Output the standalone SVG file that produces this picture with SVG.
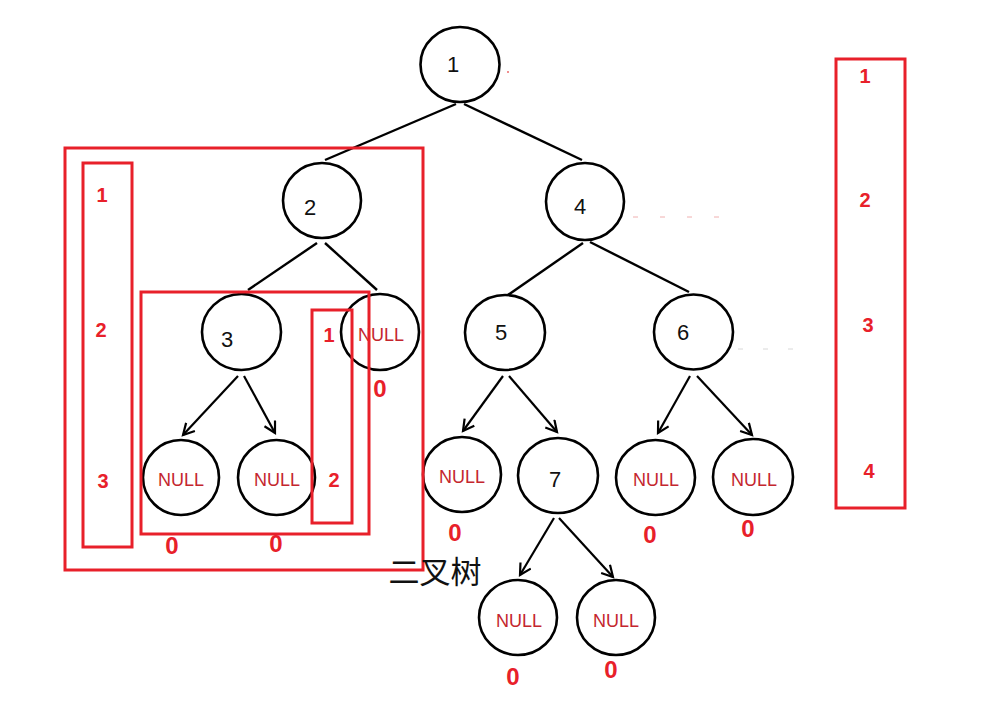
<svg xmlns="http://www.w3.org/2000/svg" width="986" height="712" viewBox="0 0 986 712">
<style>
.node{fill:#fff;stroke:#000;stroke-width:2.6}
.lbl{font-family:"Liberation Sans",Arial,sans-serif;font-size:22px;fill:#111;text-anchor:middle}
.null{font-family:"Liberation Sans",Arial,sans-serif;font-size:18px;fill:#c4262e;text-anchor:middle}
.zero{font-family:"Liberation Sans",Arial,sans-serif;font-size:24px;font-weight:bold;fill:#e8202a;text-anchor:middle}
.num{font-family:"Liberation Sans",Arial,sans-serif;font-size:20px;font-weight:bold;fill:#e8202a;text-anchor:middle}
.box{fill:none;stroke:#e8202a;stroke-width:3}
.edge{stroke:#000;stroke-width:2.4;fill:none}
.arrow{stroke:#000;stroke-width:2.2;fill:none;marker-end:url(#ah)}
.cjk{font-family:"Noto Sans CJK SC","Liberation Sans",sans-serif;font-size:31px;fill:#111;text-anchor:middle}
</style>
<defs>
<marker id="ah" markerUnits="userSpaceOnUse" markerWidth="16" markerHeight="16" refX="12" refY="7" orient="auto">
<path d="M1,1 L12,7 L1,13" fill="none" stroke="#000" stroke-width="2.2"/>
</marker>
</defs>
<rect width="986" height="712" fill="#fff"/>

<g id="connectors">
<line class="edge" x1="456" y1="104" x2="325" y2="160"/>
<line class="edge" x1="464" y1="104" x2="582" y2="160"/>
<line class="edge" x1="317" y1="243" x2="248" y2="290"/>
<line class="edge" x1="325" y1="243" x2="377" y2="290"/>
<line class="edge" x1="583" y1="243" x2="505" y2="297" stroke-width="3.4"/>
<line class="edge" x1="590" y1="242" x2="689" y2="292"/>
<line class="arrow" x1="238" y1="376" x2="183" y2="435"/>
<line class="arrow" x1="244" y1="376" x2="275" y2="433"/>
<line class="arrow" x1="503" y1="376" x2="463" y2="431"/>
<line class="arrow" x1="509" y1="376" x2="557" y2="432"/>
<line class="arrow" x1="690" y1="376" x2="658" y2="433"/>
<line class="arrow" x1="697" y1="376" x2="752" y2="435"/>
<line class="arrow" x1="554" y1="518" x2="520" y2="575"/>
<line class="arrow" x1="559" y1="518" x2="613" y2="577"/>
</g>

<g id="faint">
<line x1="633" y1="217" x2="732" y2="217" stroke="#f0b0b0" stroke-width="1" stroke-dasharray="5,22"/>
<line x1="738" y1="349" x2="800" y2="349" stroke="#d8d8d8" stroke-width="1" stroke-dasharray="5,20"/>
<rect x="507" y="71" width="2" height="2" fill="#f09090"/>
</g>

<g id="n1"><ellipse class="node" cx="460" cy="64.5" rx="39.5" ry="37.5"/><text class="lbl" x="453" y="72">1</text></g>
<g id="n2"><ellipse class="node" cx="322" cy="200.5" rx="39" ry="37.5"/><text class="lbl" x="310" y="215">2</text></g>
<g id="n4"><ellipse class="node" cx="585" cy="201.5" rx="39" ry="38.5"/><text class="lbl" x="580" y="214">4</text></g>
<g id="n3"><ellipse class="node" cx="241.5" cy="332" rx="39.5" ry="38"/><text class="lbl" x="227" y="347">3</text></g>
<g id="n2r"><ellipse class="node" cx="380" cy="332" rx="39" ry="38"/><text class="null" x="381" y="341">NULL</text></g>
<g id="n5"><ellipse class="node" cx="505" cy="332.5" rx="40" ry="37.5"/><text class="lbl" x="501" y="340">5</text></g>
<g id="n6"><ellipse class="node" cx="693.5" cy="332" rx="39.5" ry="37.5"/><text class="lbl" x="683" y="340">6</text></g>
<g id="n3l"><ellipse class="node" cx="181" cy="477.5" rx="38" ry="37.5"/><text class="null" x="181" y="486">NULL</text></g>
<g id="n3r"><ellipse class="node" cx="276.5" cy="477.5" rx="38.5" ry="37.5"/><text class="null" x="277" y="486">NULL</text></g>
<g id="n5l"><ellipse class="node" cx="462" cy="474.5" rx="39" ry="37.5"/><text class="null" x="462" y="483">NULL</text></g>
<g id="n7"><ellipse class="node" cx="558" cy="475.5" rx="40" ry="37.5"/><text class="lbl" x="555" y="487">7</text></g>
<g id="n6l"><ellipse class="node" cx="655.5" cy="477.5" rx="39.5" ry="37.5"/><text class="null" x="656" y="486">NULL</text></g>
<g id="n6r"><ellipse class="node" cx="753" cy="477" rx="40" ry="38"/><text class="null" x="754" y="486">NULL</text></g>
<g id="n7l"><ellipse class="node" cx="518" cy="617.5" rx="39" ry="37.5"/><text class="null" x="519" y="627">NULL</text></g>
<g id="n7r"><ellipse class="node" cx="616" cy="617.5" rx="39" ry="37.5"/><text class="null" x="616" y="627">NULL</text></g>

<g id="boxes">
<rect class="box" x="65" y="148" width="358" height="422"/>
<rect class="box" x="83" y="163" width="49" height="384"/>
<rect class="box" x="141" y="292" width="228" height="242"/>
<rect class="box" x="312" y="310" width="40" height="213"/>
<rect class="box" x="836" y="59" width="69" height="449"/>
</g>

<g id="zeros">
<text class="zero" x="380" y="397">0</text>
<text class="zero" x="172" y="554">0</text>
<text class="zero" x="276" y="552">0</text>
<text class="zero" x="455" y="541">0</text>
<text class="zero" x="650" y="543">0</text>
<text class="zero" x="748" y="537">0</text>
<text class="zero" x="513" y="685">0</text>
<text class="zero" x="611" y="678">0</text>
</g>

<g id="levels">
<text class="num" x="102" y="202">1</text>
<text class="num" x="101" y="337">2</text>
<text class="num" x="103" y="488">3</text>
<text class="num" x="329" y="342">1</text>
<text class="num" x="334" y="487">2</text>
<text class="num" x="865" y="83">1</text>
<text class="num" x="865" y="207">2</text>
<text class="num" x="868" y="332">3</text>
<text class="num" x="869" y="478">4</text>
</g>

<g id="title"><text class="cjk" x="435" y="583">二叉树</text></g>
</svg>
